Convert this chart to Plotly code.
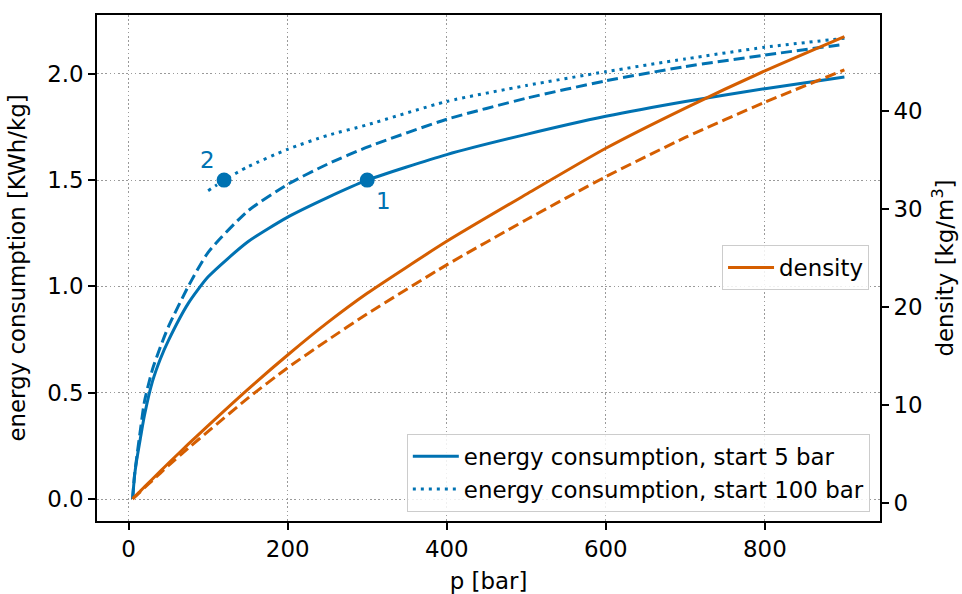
import plotly.graph_objects as go

# ---- data ----
p_grid = [5, 7.5, 10, 15, 20, 30, 40, 50, 75, 100, 150, 200, 250, 300, 400, 500, 600, 700, 800, 900]
e_start5 = [0.0, 0.11, 0.18, 0.29, 0.395, 0.553, 0.66, 0.745, 0.92, 1.045, 1.21, 1.326, 1.418, 1.50,
            1.62, 1.715, 1.80, 1.87, 1.93, 1.985]
e_start5_dash = [0.0, 0.115, 0.19, 0.33, 0.46, 0.61, 0.716, 0.81, 1.0, 1.16, 1.355, 1.48, 1.575, 1.655,
                 1.786, 1.885, 1.967, 2.034, 2.088, 2.139]
p_start100 = [100, 110, 120, 150, 200, 250, 300, 400, 500, 600, 700, 800, 900]
e_start100 = [1.45, 1.475, 1.50, 1.563, 1.645, 1.71, 1.76, 1.87, 1.945, 2.01, 2.07, 2.125, 2.167]
density = [0.45, 0.64, 0.83, 1.24, 1.64, 2.45, 3.25, 4.05, 6.0, 7.9, 11.6, 15.1, 18.4, 21.4,
           26.7, 31.5, 36.2, 40.3, 44.1, 47.6]
density_dash = [0.40, 0.59, 0.78, 1.16, 1.55, 2.3, 3.05, 3.8, 5.6, 7.3, 10.7, 13.8, 16.6, 19.3,
                24.3, 28.9, 33.3, 37.3, 40.9, 44.2]
point_labels = ["1", "2"]
point_p = [300, 120]
point_e = [1.5, 1.5]

x_ticks = [0, 200, 400, 600, 800]
y_ticks = [0.0, 0.5, 1.0, 1.5, 2.0]
y2_ticks = [0, 10, 20, 30, 40]

BLUE = "#0072B2"
ORANGE = "#D55E00"
FONT = "DejaVu Sans"
FS = 22.9
SM = 0.6

fig = go.Figure()
fig.add_trace(go.Scatter(x=p_grid, y=e_start5, mode="lines",
                         line=dict(color=BLUE, width=3, shape="spline", smoothing=SM),
                         name="energy consumption, start 5 bar", legend="legend", legendgroup="a"))
fig.add_trace(go.Scatter(x=p_grid, y=e_start5_dash, mode="lines",
                         line=dict(color=BLUE, width=3, dash="11px,5px", shape="spline", smoothing=SM),
                         showlegend=False))
fig.add_trace(go.Scatter(x=p_start100, y=e_start100, mode="lines",
                         line=dict(color=BLUE, width=3, dash="3px,5px", shape="spline", smoothing=SM),
                         name="energy consumption, start 100 bar", legend="legend", legendgroup="b"))
fig.add_trace(go.Scatter(x=point_p, y=point_e, mode="markers",
                         marker=dict(color=BLUE, size=15), showlegend=False))
fig.add_trace(go.Scatter(x=p_grid, y=density, mode="lines",
                         line=dict(color=ORANGE, width=3, shape="spline", smoothing=SM),
                         name="density", yaxis="y2", legend="legend2"))
fig.add_trace(go.Scatter(x=p_grid, y=density_dash, mode="lines",
                         line=dict(color=ORANGE, width=3, dash="11px,5px", shape="spline", smoothing=SM),
                         yaxis="y2", showlegend=False))

shifts = [(16, -21), (-17, 20)]
for lab, px, pe, (dx, dy) in zip(point_labels, point_p, point_e, shifts):
    fig.add_annotation(x=px, y=pe, text=lab, showarrow=False, xshift=dx, yshift=dy,
                       font=dict(color=BLUE, size=FS, family=FONT))

axis_common = dict(showline=True, linecolor="black", linewidth=1.6, ticks="outside",
                   ticklen=7, tickwidth=1.6, tickcolor="black", zeroline=False,
                   automargin=False,
                   tickfont=dict(size=FS, color="black", family=FONT))
grid = dict(showgrid=True, griddash="1.6px,2.6px", gridcolor="#9a9a9a", gridwidth=1)
title_font = dict(size=FS, color="black", family=FONT)

fig.update_layout(
    width=962, height=594,
    margin=dict(l=97, r=82, t=15, b=73),
    plot_bgcolor="white", paper_bgcolor="white",
    font=dict(family=FONT, size=FS, color="black"),
    xaxis=dict(range=[-39.75, 944.75], tickvals=x_ticks, mirror=True,
               title=dict(text="p [bar]", font=title_font), **grid, **axis_common),
    yaxis=dict(range=[-0.1035, 2.2766], tickvals=y_ticks, tickformat=".1f",
               title=dict(text="energy consumption [KWh/kg]", font=title_font),
               **grid, **axis_common),
    yaxis2=dict(range=[-1.84, 49.8], tickvals=y2_ticks, overlaying="y", side="right",
                showgrid=False,
                title=dict(text="density [kg/m<sup>3</sup>]", font=title_font),
                **axis_common),
    legend=dict(x=0.987, y=0.018, xanchor="right", yanchor="bottom",
                bgcolor="rgba(255,255,255,0.85)", bordercolor="#cccccc", borderwidth=1,
                font=dict(size=FS, family=FONT), tracegroupgap=0, traceorder="grouped",
                itemwidth=46),
    legend2=dict(x=0.986, y=0.4565, xanchor="right", yanchor="bottom",
                 bgcolor="rgba(255,255,255,0.85)", bordercolor="#cccccc", borderwidth=1,
                 font=dict(size=FS, family=FONT), itemwidth=46),
)

fig.write_html("out.html")
